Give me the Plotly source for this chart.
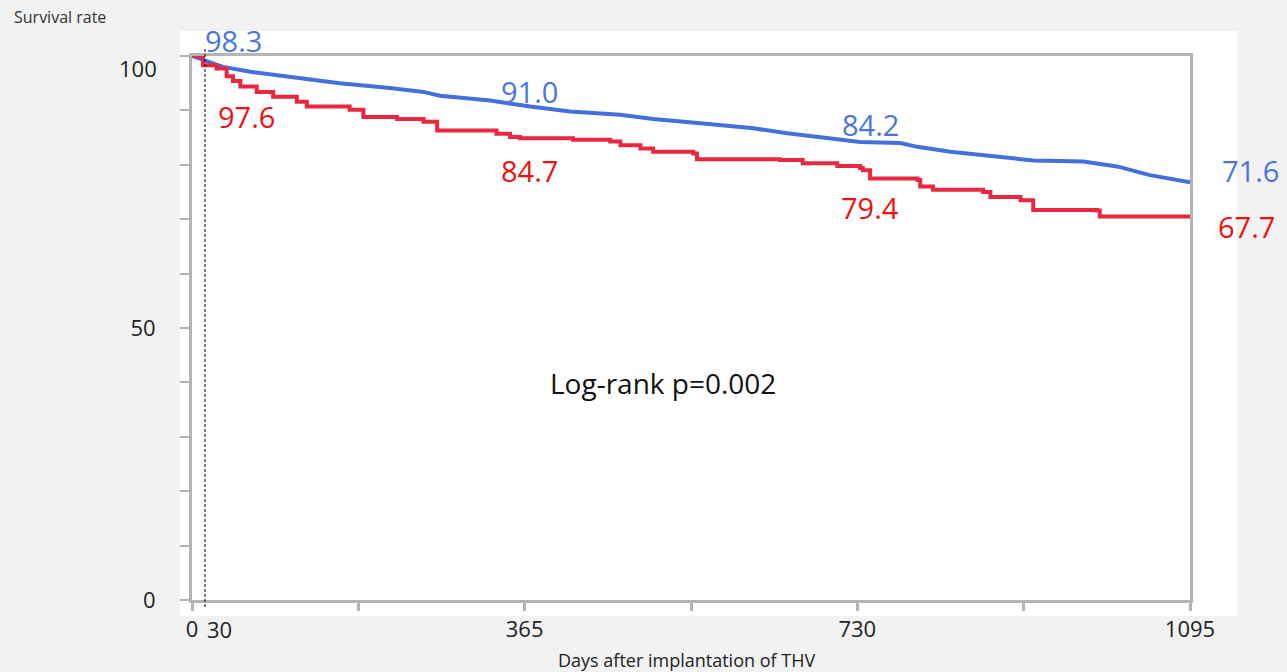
import plotly.graph_objects as go

# ---- data ----
blue_days = [0, 16, 34, 64, 108, 162, 217, 254, 272, 327, 371, 415, 470, 506, 561, 616, 653,
             708, 733, 777, 796, 832, 887, 923, 978, 1015, 1051, 1092, 1095]
blue_surv = [100, 99.0, 98.0, 97.1, 96.2, 95.0, 94.1, 93.4, 92.7, 91.8, 90.7, 89.8, 89.2, 88.4,
             87.6, 86.7, 85.8, 84.6, 84.2, 84.0, 83.3, 82.4, 81.5, 80.8, 80.6, 79.7, 78.1, 76.9, 76.8]

red_days = [0, 12, 27, 38, 45, 53, 71, 89, 115, 126, 173, 188, 225, 254, 269, 334, 349, 360,
            418, 459, 470, 492, 506, 550, 554, 645, 670, 708, 733, 736, 744, 796, 799, 813,
            868, 876, 909, 923, 993, 996, 1095]
red_surv = [100, 98.3, 97.7, 96.3, 95.4, 94.4, 93.4, 92.5, 91.6, 90.7, 90.1, 88.8, 88.4, 87.9,
            86.3, 85.7, 85.1, 84.9, 84.6, 84.3, 83.6, 83.0, 82.4, 82.1, 81.0, 80.9, 80.3, 79.8,
            79.4, 79.0, 77.5, 77.2, 76.0, 75.4, 75.0, 74.1, 73.5, 71.7, 71.6, 70.5, 70.5]

blue_labels = ["98.3", "91.0", "84.2", "71.6"]
red_labels = ["97.6", "84.7", "79.4", "67.7"]

x_tickvals = [0, 182.5, 365, 547.5, 730, 912.5, 1095]
x_ticktext = ["0", "", "365", "", "730", "", "1095"]
x_extra_label = "30"
y_tickvals = [0, 10, 20, 30, 40, 50, 60, 70, 80, 90, 100]
y_ticktext = ["0", "", "", "", "", "50", "", "", "", "", ""]
y_top_label = "100"

pval_text = "Log-rank p=0.002"
x_title = "Days after implantation of THV"
y_title = "Survival rate"

# ---- layout geometry (pixels) ----
WID, HEI = 1287, 672
L, R, T, B = 192, 1190, 56, 600
PW, PH = R - L, B - T


def px(x):
    return (x - L) / PW


def py(y):
    return (B - y) / PH


BLUE_LINE = "#4470dc"
RED_LINE = "#ea2740"
BLUE_TXT = "#4a76dc"
RED_TXT = "#f01010"
AXIS = "#b4b4b4"
FONT = "Open Sans"
TICK_COL = "#222222"

fig = go.Figure()
fig.add_trace(go.Scatter(x=blue_days, y=blue_surv, mode="lines",
                         line=dict(color=BLUE_LINE, width=4, shape="linear"),
                         showlegend=False, hoverinfo="skip"))
fig.add_trace(go.Scatter(x=red_days, y=red_surv, mode="lines",
                         line=dict(color=RED_LINE, width=4, shape="hv"),
                         showlegend=False, hoverinfo="skip"))

# white panel behind the chart
fig.add_shape(type="rect", xref="paper", yref="paper",
              x0=px(180), x1=px(1237), y0=py(616), y1=py(31),
              fillcolor="white", line=dict(width=0), layer="below")

# dashed vertical marker line
fig.add_shape(type="line", xref="paper", yref="paper", x0=px(205), x1=px(205),
              y0=py(607), y1=py(48), line=dict(color="black", width=1, dash="3px,2px"),
              layer="above")

ann = []
blue_pos = [(233, 40), (529, 91), (870, 124), (1250, 170)]
red_pos = [(246, 116), (529, 170), (870, 207), (1246, 226)]
for t, (x, y) in zip(blue_labels, blue_pos):
    ann.append(dict(text=t, x=px(x), y=py(y), xref="paper", yref="paper", showarrow=False,
                    xanchor="center", yanchor="middle",
                    font=dict(family=FONT, size=29, color=BLUE_TXT)))
for t, (x, y) in zip(red_labels, red_pos):
    ann.append(dict(text=t, x=px(x), y=py(y), xref="paper", yref="paper", showarrow=False,
                    xanchor="center", yanchor="middle",
                    font=dict(family=FONT, size=29, color=RED_TXT)))
ann.append(dict(text=pval_text, x=px(663), y=py(383), xref="paper", yref="paper",
                showarrow=False, xanchor="center", yanchor="middle",
                font=dict(family=FONT, size=28, color="#111111")))
ann.append(dict(text=y_title, x=px(12), y=py(17), xref="paper", yref="paper",
                showarrow=False, xanchor="left", yanchor="middle",
                font=dict(family=FONT, size=16, color="#333333")))
ann.append(dict(text=x_title, x=px(686), y=py(660), xref="paper", yref="paper",
                showarrow=False, xanchor="center", yanchor="middle",
                font=dict(family=FONT, size=18, color="#222222")))
ann.append(dict(text=x_extra_label, x=px(219), y=py(629), xref="paper", yref="paper",
                showarrow=False, xanchor="center", yanchor="middle",
                font=dict(family=FONT, size=22, color=TICK_COL)))
ann.append(dict(text=y_top_label, x=px(159), y=py(68), xref="paper", yref="paper",
                showarrow=False, xanchor="right", yanchor="middle",
                font=dict(family=FONT, size=22, color=TICK_COL)))

fig.update_layout(
    width=WID, height=HEI,
    margin=dict(l=L, r=WID - R, t=T, b=HEI - B, pad=0),
    paper_bgcolor="#f2f2f2", plot_bgcolor="white",
    annotations=ann,
    xaxis=dict(range=[0, 1095], tickvals=x_tickvals, ticktext=x_ticktext,
               showgrid=False, zeroline=False, showline=True, linecolor=AXIS, linewidth=3,
               mirror=True, ticks="outside", ticklen=8, tickwidth=3, tickcolor=AXIS,
               tickfont=dict(family=FONT, size=22, color=TICK_COL)),
    yaxis=dict(range=[0, 100], tickvals=y_tickvals, ticktext=y_ticktext,
               showgrid=False, zeroline=False, showline=True, linecolor=AXIS, linewidth=3,
               mirror=True, ticks="outside", ticklen=9, tickwidth=2, tickcolor=AXIS,
               ticklabelstandoff=20,
               tickfont=dict(family=FONT, size=22, color=TICK_COL)),
)

fig.write_html("out.html")
